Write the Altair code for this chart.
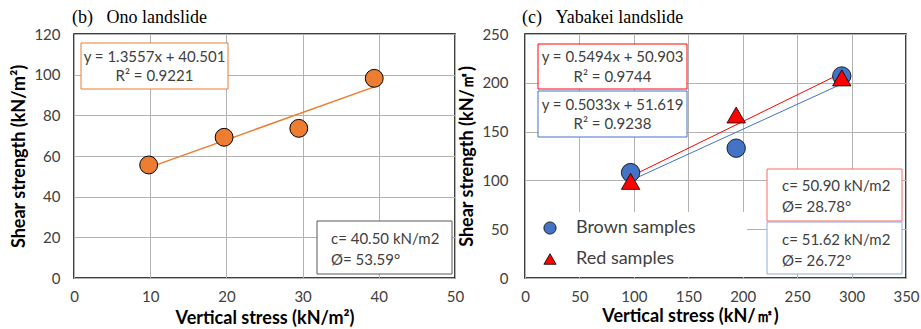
import altair as alt
import pandas as pd

# ---- data ----
ono_x = [9.8, 19.7, 29.5, 39.4]
ono_y = [55.6, 69.2, 73.6, 98.2]

yab_x = [97, 194, 291]
brown_y = [108, 133, 207]
red_y = [99, 167, 205]

series_names = ["Brown samples", "Red samples"]

ono_ticks_x = [0, 10, 20, 30, 40, 50]
ono_ticks_y = [0, 20, 40, 60, 80, 100, 120]
yab_ticks_x = [0, 50, 100, 150, 200, 250, 300, 350]
yab_ticks_y = [0, 50, 100, 150, 200, 250]

ORANGE = "#ED7D31"
BLUE = "#4472C4"
RED = "#FF0000"
GRID = "#b3b3b3"
LBL = "#404040"
FONT = "Lato"

W, H = 381, 244
GAP = 70

ono_df = pd.DataFrame({"x": ono_x, "y": ono_y})
yab_df = pd.DataFrame({
    "x": yab_x + yab_x,
    "y": brown_y + red_y,
    "series": [series_names[0]] * len(yab_x) + [series_names[1]] * len(yab_x),
})
one = pd.DataFrame({"a": [0]})


def xaxis(vals, title, tpad, **kw):
    return alt.Axis(values=vals, grid=True, gridColor=GRID, gridWidth=1, ticks=False, tickSize=0,
                    domain=False, labelFont=FONT, labelFontSize=15, labelColor=LBL,
                    labelPadding=11, labelFlush=False, title=title, titleFont=FONT,
                    titleFontSize=18, titleFontWeight="bold", titleColor="black",
                    titlePadding=tpad, **kw)


def yaxis(vals, title, pad, **kw):
    return alt.Axis(values=vals, grid=True, gridColor=GRID, gridWidth=1, ticks=False, tickSize=0,
                    domain=False, labelFont=FONT, labelFontSize=15, labelColor=LBL,
                    labelPadding=pad, labelFlush=False, title=title, titleFont=FONT,
                    titleFontSize=18, titleFontWeight="bold", titleColor="black",
                    titlePadding=5, **kw)


def box(x1, x2, y1, y2, color):
    return alt.Chart(one).mark_rect(fill="white", stroke=color, strokeWidth=1).encode(
        x=alt.value(x1), x2=alt.value(x2), y=alt.value(y1), y2=alt.value(y2))


def txt(s, x, y, align="center", size=15):
    return alt.Chart(one).mark_text(text=s, align=align, baseline="middle", font=FONT,
                                    fontSize=size, color=LBL).encode(
        x=alt.value(x), y=alt.value(y))


def heading(s, x):
    return alt.Chart(one).mark_text(text=s, align="left", baseline="alphabetic",
                                    font="Liberation Serif", fontSize=18,
                                    color="black").encode(x=alt.value(x), y=alt.value(-11))


def white(x1, x2, y1, y2):
    return alt.Chart(one).mark_rect(fill="white").encode(
        x=alt.value(x1), x2=alt.value(x2), y=alt.value(y1), y2=alt.value(y2))


# ---------------- left panel ----------------
ox = alt.X("x:Q", scale=alt.Scale(domain=[0, 50], nice=False),
           axis=xaxis(ono_ticks_x, "Vertical stress (kN/m²)", 5))
oy = alt.Y("y:Q", scale=alt.Scale(domain=[0, 120], nice=False),
           axis=yaxis(ono_ticks_y, "Shear strength (kN/m²)", 14))

ono_line = alt.Chart(ono_df).transform_regression("x", "y").mark_line(
    color=ORANGE, strokeWidth=1.5).encode(x=ox, y=oy)
ono_pts = alt.Chart(ono_df).mark_point(filled=True, fill=ORANGE, stroke="black",
                                       strokeWidth=1, size=320, opacity=1,
                                       shape="circle").encode(x=ox, y=oy)

left = alt.layer(
    ono_line, ono_pts,
    box(7, 154, 9, 55, ORANGE),
    txt("y = 1.3557x + 40.501", 80.5, 23),
    txt("R² = 0.9221", 80.5, 42),
    box(243, 378, 187, 240, "#595959"),
    txt("c= 40.50 kN/m2", 257, 205, "left"),
    txt("Ø= 53.59°", 257, 226, "left"),
    heading("(b)\u00a0\u00a0\u00a0Ono landslide", -2),
).properties(width=W, height=H)

# ---------------- right panel ----------------
yx = alt.X("x:Q", scale=alt.Scale(domain=[0, 350], nice=False),
           axis=xaxis(yab_ticks_x, "Vertical stress (kN/㎡)", 3, titleX=165))
yy = alt.Y("y:Q", scale=alt.Scale(domain=[0, 250], nice=False),
           axis=yaxis(yab_ticks_y, "Shear strength (kN/㎡)", 17))

blue_line = alt.Chart(yab_df).transform_filter(
    alt.datum.series == series_names[0]).transform_regression("x", "y").mark_line(
    color=BLUE, strokeWidth=1).encode(x=yx, y=yy)
red_line = alt.Chart(yab_df).transform_filter(
    alt.datum.series == series_names[1]).transform_regression("x", "y").mark_line(
    color=RED, strokeWidth=1).encode(x=yx, y=yy)

leg = alt.Legend(title=None, orient="none", legendX=W + GAP + 16, legendY=185, padding=0,
                 labelFont=FONT, labelFontSize=18, labelColor=LBL, labelOffset=17,
                 symbolSize=150, symbolStrokeColor="black", symbolStrokeWidth=0.8,
                 rowPadding=13)
yab_pts = alt.Chart(yab_df).mark_point(filled=True, stroke="black", strokeWidth=0.8,
                                       size=340, opacity=1).encode(
    x=yx, y=yy,
    color=alt.Color("series:N", scale=alt.Scale(domain=series_names, range=[BLUE, RED]),
                    legend=leg),
    shape=alt.Shape("series:N", scale=alt.Scale(domain=series_names,
                                                range=["circle", "triangle-up"]),
                    legend=leg),
)

right = alt.layer(
    white(1, 222, 178, 243),
    blue_line, red_line, yab_pts,
    box(13, 162, 10, 55, RED),
    txt("y = 0.5494x + 50.903", 87.5, 23),
    txt("R² = 0.9744", 87.5, 43),
    box(13, 162, 57, 103, BLUE),
    txt("y = 0.5033x + 51.619", 87.5, 71),
    txt("R² = 0.9238", 87.5, 90),
    box(242, 377, 135, 187, "#FF6666"),
    txt("c= 50.90 kN/m2", 257, 152, "left"),
    txt("Ø= 28.78°", 257, 173, "left"),
    box(242, 377, 188, 240, "#8FAADC"),
    txt("c= 51.62 kN/m2", 257, 206, "left"),
    txt("Ø= 26.72°", 257, 227, "left"),
    heading("(c)\u00a0\u00a0\u00a0Yabakei landslide", -3),
).properties(width=W, height=H)

chart = alt.hconcat(left, right, spacing=GAP, bounds="flush").properties(
    padding={"left": 10, "top": 8, "right": 0, "bottom": 0},
    background="white",
).configure_view(stroke="black", strokeWidth=1.5).resolve_scale(
    x="independent", y="independent")

chart.save("out.html", embed_options={"renderer": "svg", "actions": False})
